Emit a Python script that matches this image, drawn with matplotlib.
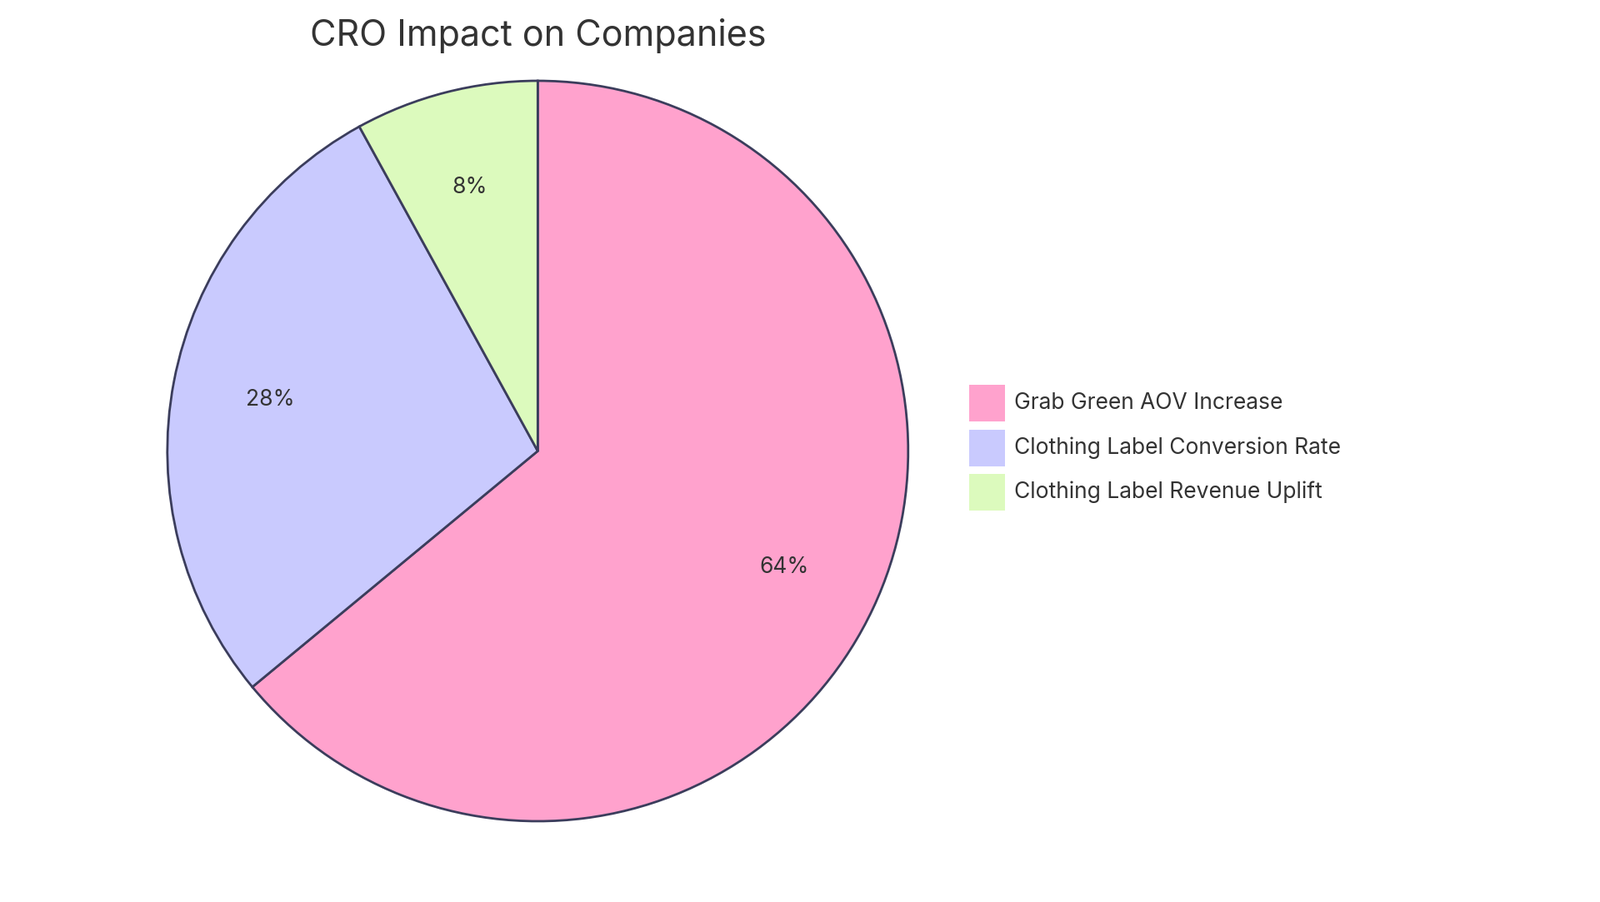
import matplotlib
matplotlib.use("Agg")
import matplotlib.pyplot as plt
from matplotlib.patches import Rectangle

title = "CRO Impact on Companies"
labels = ["Grab Green AOV Increase", "Clothing Label Conversion Rate", "Clothing Label Revenue Uplift"]
values = [64, 28, 8]
colors = ["#FFA2CD", "#C9CAFE", "#DCFABD"]
edge = "#3B3D5C"
textc = "#333333"
font = "Inter"

fig = plt.figure(figsize=(19.2, 10.83), dpi=100)
W, H = 1568, 880
r = 363
cx, cy = 527, 440
ax = fig.add_axes([(cx - r) / W, (H - cy - r) / H, 2 * r / W, 2 * r / H])
ax.pie(values, colors=colors, startangle=90, counterclock=False,
       autopct=lambda p: f"{p:.0f}%", pctdistance=0.735,
       wedgeprops=dict(edgecolor=edge, linewidth=2),
       textprops=dict(fontsize=19, color=textc, family=font))
ax.set_xlim(-1, 1); ax.set_ylim(-1, 1)
ax.set_aspect("equal")

fig.text(cx / W, 1 - 35 / H, title, ha="center", va="center", fontsize=31, color=textc, family=font)

ys = [393, 437, 480]
for lab, col, y in zip(labels, colors, ys):
    fig.patches.append(Rectangle((950 / W, 1 - (y + 18) / H), 35 / W, 36 / H,
                                 transform=fig.transFigure, facecolor=col, edgecolor="none"))
    fig.text(994 / W, 1 - y / H, lab, ha="left", va="center", fontsize=19, color=textc, family=font)

fig.savefig("out.png", dpi=100)
